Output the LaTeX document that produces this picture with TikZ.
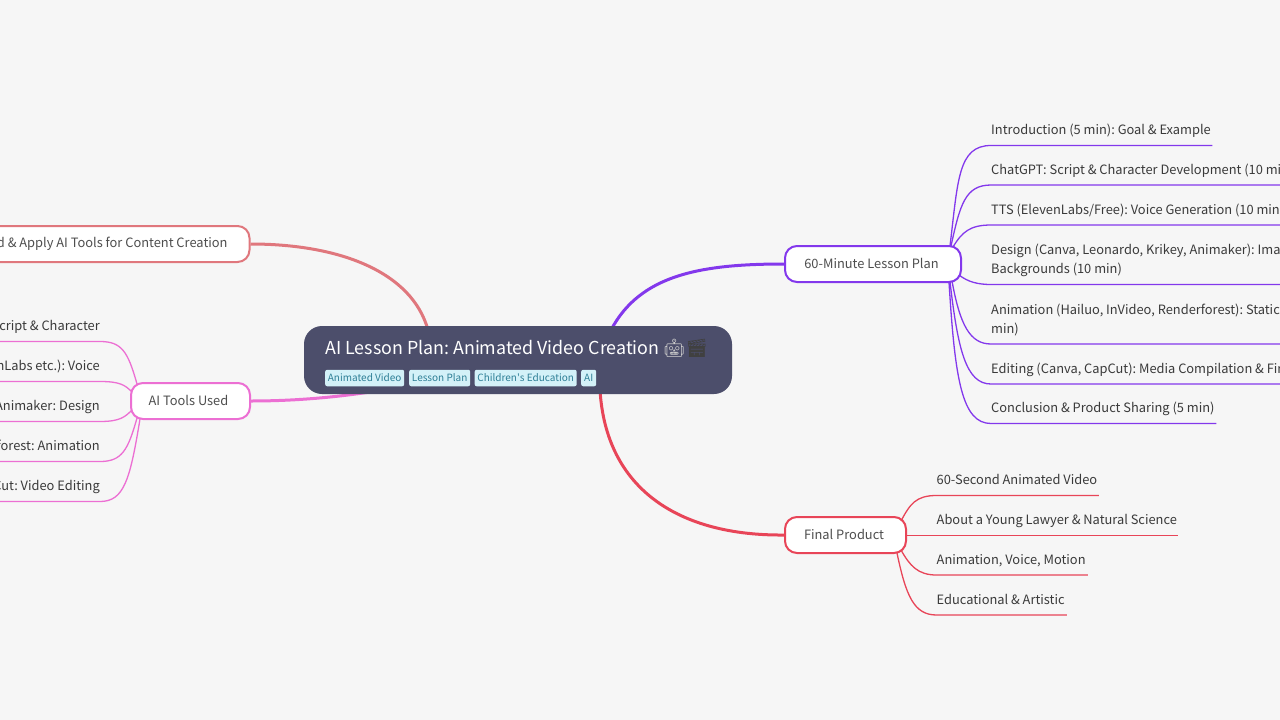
\documentclass[tikz,border=0pt]{standalone}
\usepackage{fontspec}
\setmainfont{Noto Sans CJK SC}
\newfontfamily\plainapos{Noto Sans CJK SC}
\newfontfamily\emojifont{Noto Emoji}
\frenchspacing
\definecolor{bgc}{HTML}{F6F6F6}
\definecolor{navy}{HTML}{4C4E6B}
\definecolor{rosec}{HTML}{E0777D}
\definecolor{pinkc}{HTML}{EC6FD3}
\definecolor{purpc}{HTML}{8338EC}
\definecolor{redc}{HTML}{E84558}
\definecolor{txt}{HTML}{3A3A3A}
\definecolor{tagbg}{HTML}{D3F1F8}
\definecolor{tagfg}{HTML}{2E7F96}
\newcommand{\bfont}{\fontsize{12.85}{19}\selectfont}
\newcommand{\lstrut}{\rule[-4.5pt]{0pt}{4.5pt}}
\tikzset{
  x=1pt,y=-1pt,
  branch/.style={draw=#1,line width=2pt,rounded corners=12pt,fill=white,minimum height=36pt,inner sep=0pt,font=\bfont,text=txt!90!white},
  leaf/.style={anchor=south west,inner xsep=0pt,inner ysep=6pt,text width=#1,align=flush left,font=\bfont,text=txt},
  rleaf/.style={anchor=south east,inner xsep=0pt,inner ysep=6pt,text width=#1,align=flush right,font=\bfont,text=txt},
  tag/.style={fill=tagbg,text=tagfg,rounded corners=2pt,anchor=west,inner xsep=0pt,inner ysep=0pt,minimum height=16.5pt,font=\fontsize{10}{13}\selectfont},
  maincon/.style={draw=#1,line width=3pt},
  subcon/.style={draw=#1,line width=1.3pt},
}
\begin{document}
\begin{tikzpicture}
\useasboundingbox (0,0) rectangle (1280,720);
\clip (0,0) rectangle (1280,720);
\fill[bgc] (0,0) rectangle (1280,720);

% named anchor points
\coordinate (cR) at (428,330);
\coordinate (cP) at (370,392);
\coordinate (cV) at (611,330);
\coordinate (cF) at (600,390);

\node[branch=purpc,minimum width=176pt] (plan) at (873,264) {\raisebox{1.5pt}{60-Minute Lesson Plan}\kern3pt};
\node[branch=redc,minimum width=121pt] (final) at (845.5,535) {\raisebox{1.5pt}{Final Product}\kern3pt};
\node[branch=pinkc,minimum width=119pt] (tools) at (190.5,401) {\raisebox{1.5pt}{AI Tools Used}\kern4pt};
\node[branch=rosec,anchor=east,text width=300pt,align=flush right,inner xsep=22pt] (goal) at (250.5,244) {\raisebox{1pt}{d \& Apply AI Tools for Content Creation}};

\draw[maincon=rosec] (cR) .. controls (412,272) and (340,244) .. (goal.east);
\draw[maincon=pinkc] (cP) .. controls (330,398) and (290,401) .. (tools.east);
\draw[maincon=purpc] (cV) .. controls (640,275) and (700,264) .. (plan.west);
\draw[maincon=redc] (cF) .. controls (606,490) and (680,536) .. (final.west);

\node[fill=navy,rounded corners=18pt,minimum width=428pt,minimum height=68pt,inner sep=0pt] (center) at (518,360) {};
\node[anchor=base west,inner sep=0pt,text=white,font=\fontsize{17.85}{24}\selectfont] (title) at (325,354) {AI Lesson Plan: Animated Video Creation\kern3.5pt{\emojifont\fontsize{18}{24}\selectfont\color{gray!40}🤖}\kern-0.5pt{\emojifont\fontsize{18}{24}\selectfont\color{black!75}🎬}};
\node[tag,minimum width=79pt] (t1) at (325,378) {Animated Video};
\node[tag,minimum width=61pt] (t2) at (409,378) {Lesson Plan};
\node[tag,minimum width=102pt] (t3) at (474.5,378) {Children{\plainapos'}s Education};
\node[tag,minimum width=15pt] (t4) at (581,378) {AI};

% 60-minute lesson plan leaves
\node[leaf=221pt] (p1) at (991,145.5) {Introduction (5 min): Goal \& Example\lstrut};
\node[leaf=320pt] (p2) at (991,185) {ChatGPT: Script \& Character Development (10 mi\lstrut};
\node[leaf=320pt] (p3) at (991,225) {TTS (ElevenLabs/Free): Voice Generation (10 min\lstrut};
\node[leaf=320pt] (p4) at (991,284.5) {Design (Canva, Leonardo, Krikey, Animaker): Ima\\Backgrounds (10 min)\lstrut};
\node[leaf=320pt] (p5) at (991,344) {Animation (Hailuo, InVideo, Renderforest): Static\\min)\lstrut};
\node[leaf=320pt] (p6) at (991,384) {Editing (Canva, CapCut): Media Compilation \& Fir\lstrut};
\node[leaf=225pt] (p7) at (991,423.5) {Conclusion \& Product Sharing (5 min)\lstrut};
\draw[subcon=purpc] (950,246) .. controls (958,180) and (958,145.5) .. (p1.south west) -- (p1.south east);
\draw[subcon=purpc] (951,246) .. controls (960,205) and (965,185) .. (p2.south west) -- (p2.south east);
\draw[subcon=purpc] (953,247) .. controls (962,232) and (970,225) .. (p3.south west) -- (p3.south east);
\draw[subcon=purpc] (959,275) .. controls (968,282) and (978,284.5) .. (p4.south west) -- (p4.south east);
\draw[subcon=purpc] (952,281) .. controls (960,325) and (970,344) .. (p5.south west) -- (p5.south east);
\draw[subcon=purpc] (950,282) .. controls (958,350) and (966,384) .. (p6.south west) -- (p6.south east);
\draw[subcon=purpc] (949,282) .. controls (955,380) and (962,423.5) .. (p7.south west) -- (p7.south east);

% final product leaves
\node[leaf=162pt] (f1) at (936.5,495.5) {60-Second Animated Video\lstrut};
\node[leaf=241pt] (f2) at (936.5,535.5) {About a Young Lawyer \& Natural Science\lstrut};
\node[leaf=151pt] (f3) at (936.5,575) {Animation, Voice, Motion\lstrut};
\node[leaf=130pt] (f4) at (936.5,615) {Educational \& Artistic\lstrut};
\draw[subcon=redc] (901,521) .. controls (910,504) and (916,495.5) .. (f1.south west) -- (f1.south east);
\draw[subcon=redc] (906,535.5) -- (f2.south west) -- (f2.south east);
\draw[subcon=redc] (901,550) .. controls (910,566) and (918,575) .. (f3.south west) -- (f3.south east);
\draw[subcon=redc] (897,553) .. controls (906,596) and (914,615) .. (f4.south west) -- (f4.south east);

% AI tools leaves
\node[rleaf=200pt] (a1) at (100,341.5) {cript \& Character\lstrut};
\node[rleaf=200pt] (a2) at (100,381.5) {nLabs etc.): Voice\lstrut};
\node[rleaf=200pt] (a3) at (100,421.5) {Animaker: Design\lstrut};
\node[rleaf=200pt] (a4) at (100,461.5) {forest: Animation\lstrut};
\node[rleaf=200pt] (a5) at (100,501.5) {Cut: Video Editing\lstrut};
\draw[subcon=pinkc] (137,384) .. controls (128,352) and (122,341.5) .. (a1.south east) -- (a1.south west);
\draw[subcon=pinkc] (132,392) .. controls (125,385) and (120,381.5) .. (a2.south east) -- (a2.south west);
\draw[subcon=pinkc] (132,410) .. controls (125,417) and (120,421.5) .. (a3.south east) -- (a3.south west);
\draw[subcon=pinkc] (137,418) .. controls (128,450) and (122,461.5) .. (a4.south east) -- (a4.south west);
\draw[subcon=pinkc] (140,419) .. controls (130,480) and (124,501.5) .. (a5.south east) -- (a5.south west);
\end{tikzpicture}
\end{document}
